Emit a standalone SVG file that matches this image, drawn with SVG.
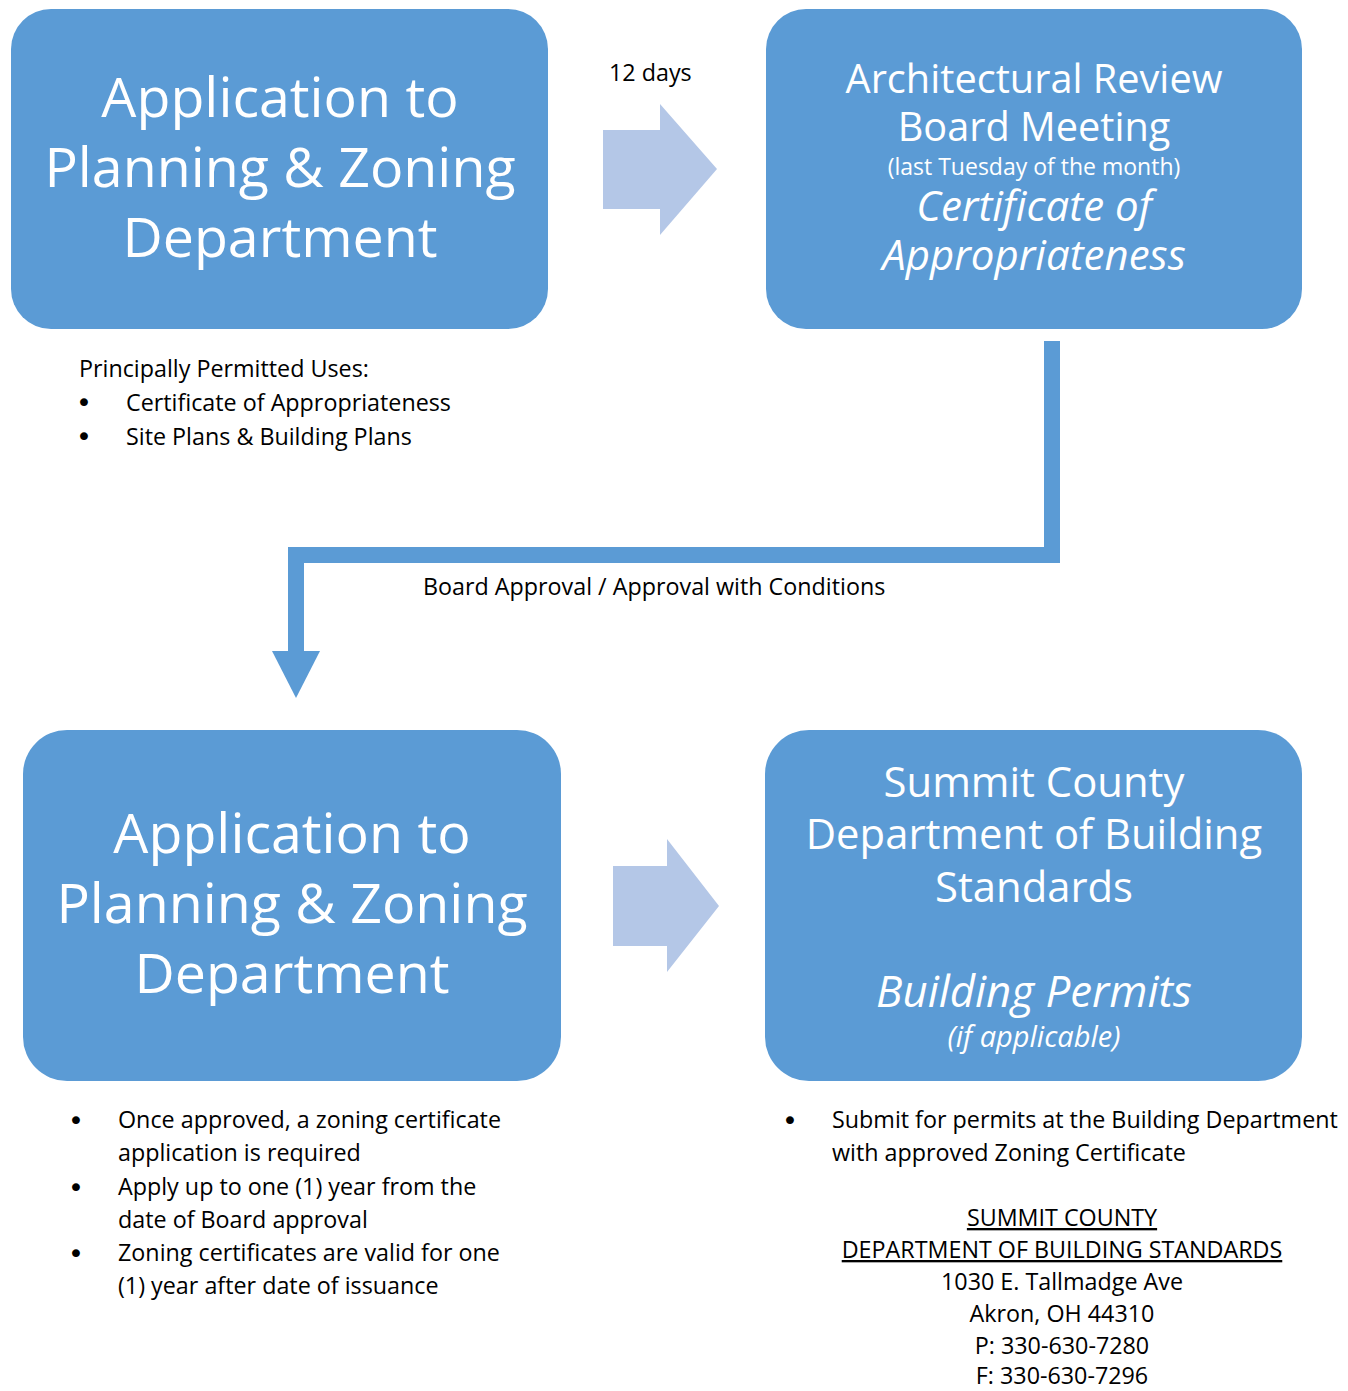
<svg xmlns="http://www.w3.org/2000/svg" width="1348" height="1391" viewBox="0 0 1348 1391">
<style>
.box{fill:#5B9BD5}
.arr{fill:#B4C7E7}
.w{fill:#FFFFFF;font-family:"Open Sans","Noto Sans",sans-serif;text-anchor:middle}
.it{font-style:italic}
.b{fill:#000000;font-family:"Open Sans","Noto Sans",sans-serif;font-size:23.3px}
.c{text-anchor:middle}
.u{text-decoration:underline}
.bul{fill:#000000;font-family:"DejaVu Sans",sans-serif;font-size:27px}
</style>
<rect width="1348" height="1391" fill="#FFFFFF"/>
<g id="connectors">
  <polygon class="arr" points="603,130 660,130 660,104 717,169 660,235 660,209 603,209"/>
  <polyline points="1052,341 1052,555 296,555 296,652" fill="none" stroke="#5B9BD5" stroke-width="16"/>
  <polygon fill="#5B9BD5" points="272,651 320,651 296,698"/>
  <polygon class="arr" points="613,866 667,866 667,839 719,906 667,972 667,946 613,946"/>
  <text class="b" x="609" y="81">12 days</text>
  <text class="b" x="423" y="595">Board Approval / Approval with Conditions</text>
</g>
<g id="node-application-1">
  <rect class="box" x="11" y="9" width="537" height="320" rx="40" ry="40"/>
  <text class="w" font-size="55.5" x="280" y="117">Application to</text>
  <text class="w" font-size="55.5" x="280" y="187">Planning &amp; Zoning</text>
  <text class="w" font-size="55.5" x="280" y="257">Department</text>
</g>
<g id="node-arb">
  <rect class="box" x="766" y="9" width="536" height="320" rx="40" ry="40"/>
  <text class="w" font-size="39.7" x="1034" y="93">Architectural Review</text>
  <text class="w" font-size="39.7" x="1034" y="141">Board Meeting</text>
  <text class="w" font-size="23" x="1034" y="175">(last Tuesday of the month)</text>
  <text class="w it" font-size="42" x="1034" y="221">Certificate of</text>
  <text class="w it" font-size="42" x="1034" y="270">Appropriateness</text>
</g>
<g id="notes-permitted-uses">
  <text class="b" x="79" y="377">Principally Permitted Uses:</text>
  <text class="bul" x="76" y="412">•</text>
  <text class="b" x="126" y="411">Certificate of Appropriateness</text>
  <text class="bul" x="76" y="446">•</text>
  <text class="b" x="126" y="445">Site Plans &amp; Building Plans</text>
</g>
<g id="node-application-2">
  <rect class="box" x="23" y="730" width="538" height="351" rx="44" ry="44"/>
  <text class="w" font-size="55.5" x="292" y="853">Application to</text>
  <text class="w" font-size="55.5" x="292" y="923">Planning &amp; Zoning</text>
  <text class="w" font-size="55.5" x="292" y="993">Department</text>
</g>
<g id="node-building-standards">
  <rect class="box" x="765" y="730" width="537" height="351" rx="44" ry="44"/>
  <text class="w" font-size="41.8" x="1034" y="797">Summit County</text>
  <text class="w" font-size="41.8" x="1034" y="849">Department of Building</text>
  <text class="w" font-size="41.8" x="1034" y="902">Standards</text>
  <text class="w it" font-size="43.8" x="1034" y="1007">Building Permits</text>
  <text class="w it" font-size="29" x="1034" y="1047">(if applicable)</text>
</g>
<g id="notes-zoning-certificate">
  <text class="bul" x="68" y="1130">•</text>
  <text class="b" x="118" y="1128">Once approved, a zoning certificate</text>
  <text class="b" x="118" y="1161">application is required</text>
  <text class="bul" x="68" y="1197">•</text>
  <text class="b" x="118" y="1195">Apply up to one (1) year from the</text>
  <text class="b" x="118" y="1228">date of Board approval</text>
  <text class="bul" x="68" y="1263">•</text>
  <text class="b" x="118" y="1261">Zoning certificates are valid for one</text>
  <text class="b" x="118" y="1294">(1) year after date of issuance</text>
</g>
<g id="notes-building-permits">
  <text class="bul" x="782" y="1130">•</text>
  <text class="b" x="832" y="1128">Submit for permits at the Building Department</text>
  <text class="b" x="832" y="1161">with approved Zoning Certificate</text>
  <text class="b c u" x="1062" y="1226">SUMMIT COUNTY</text>
  <text class="b c u" x="1062" y="1258">DEPARTMENT OF BUILDING STANDARDS</text>
  <text class="b c" x="1062" y="1290">1030 E. Tallmadge Ave</text>
  <text class="b c" x="1062" y="1322">Akron, OH 44310</text>
  <text class="b c" x="1062" y="1354">P: 330-630-7280</text>
  <text class="b c" x="1062" y="1384">F: 330-630-7296</text>
</g>
</svg>
